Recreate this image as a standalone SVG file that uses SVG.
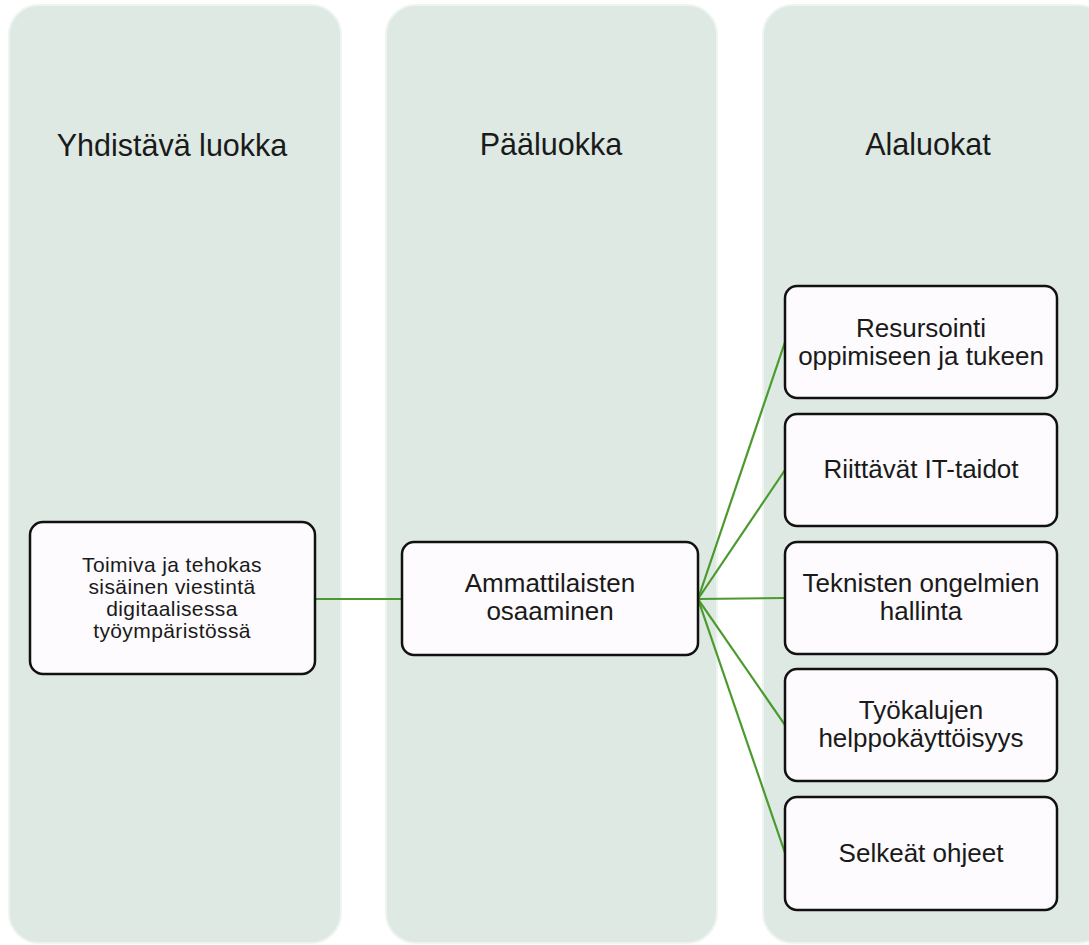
<svg xmlns="http://www.w3.org/2000/svg" width="1089" height="945" viewBox="0 0 1089 945">
  <style>
    .col { fill: #dde9e2; stroke: #eef4f0; stroke-width: 2; }
    .head { font-family: "Liberation Sans", Arial, sans-serif; font-size: 30.5px; fill: #1a1a1a; text-anchor: middle; }
    .box { fill: #fdfbfd; stroke: #111; stroke-width: 2.5; }
    .lbl { font-family: "Liberation Sans", Arial, sans-serif; font-size: 26px; fill: #1a1a1a; text-anchor: middle; }
    .sm { font-size: 21px; letter-spacing: 0.4px; }
    .edge { stroke: #4a9a2e; stroke-width: 2.2; fill: none; }
  </style>

  <!-- column panels -->
  <g id="columns">
    <rect class="col" x="9" y="5" width="332" height="938" rx="30"/>
    <rect class="col" x="386" y="5" width="331" height="938" rx="30"/>
    <rect class="col" x="763" y="5" width="345" height="938" rx="30"/>
    <text class="head" x="172" y="156">Yhdistävä luokka</text>
    <text class="head" x="551" y="155">Pääluokka</text>
    <text class="head" x="928" y="155">Alaluokat</text>
  </g>

  <!-- connectors -->
  <g id="connectors">
    <line class="edge" x1="315" y1="599" x2="402" y2="599"/>
    <line class="edge" x1="698" y1="599" x2="785" y2="342"/>
    <line class="edge" x1="698" y1="599" x2="785" y2="470"/>
    <line class="edge" x1="698" y1="599" x2="785" y2="598"/>
    <line class="edge" x1="698" y1="599" x2="785" y2="725"/>
    <line class="edge" x1="698" y1="599" x2="785" y2="853"/>
  </g>

  <g id="node-viestinta">
    <rect class="box" x="30" y="522" width="285" height="152" rx="13"/>
    <text class="lbl sm" x="172" y="572">Toimiva ja tehokas</text>
    <text class="lbl sm" x="172" y="594">sisäinen viestintä</text>
    <text class="lbl sm" x="172" y="616">digitaalisessa</text>
    <text class="lbl sm" x="172" y="638">työympäristössä</text>
  </g>

  <g id="node-osaaminen">
    <rect class="box" x="402" y="542" width="296" height="113" rx="12"/>
    <text class="lbl" x="550" y="592">Ammattilaisten</text>
    <text class="lbl" x="550" y="620">osaaminen</text>
  </g>

  <g id="node-resursointi">
    <rect class="box" x="785" y="286" width="272" height="112" rx="12"/>
    <text class="lbl" x="921" y="337">Resursointi</text>
    <text class="lbl" x="921" y="365">oppimiseen ja tukeen</text>
  </g>

  <g id="node-it-taidot">
    <rect class="box" x="785" y="414" width="272" height="112" rx="12"/>
    <text class="lbl" x="921" y="478">Riittävät IT-taidot</text>
  </g>

  <g id="node-ongelmat">
    <rect class="box" x="785" y="542" width="272" height="112" rx="12"/>
    <text class="lbl" x="921" y="592">Teknisten ongelmien</text>
    <text class="lbl" x="921" y="620">hallinta</text>
  </g>

  <g id="node-tyokalut">
    <rect class="box" x="785" y="669" width="272" height="112" rx="12"/>
    <text class="lbl" x="921" y="719">Työkalujen</text>
    <text class="lbl" x="921" y="747">helppokäyttöisyys</text>
  </g>

  <g id="node-ohjeet">
    <rect class="box" x="785" y="797" width="272" height="113" rx="12"/>
    <text class="lbl" x="921" y="862">Selkeät ohjeet</text>
  </g>
</svg>
